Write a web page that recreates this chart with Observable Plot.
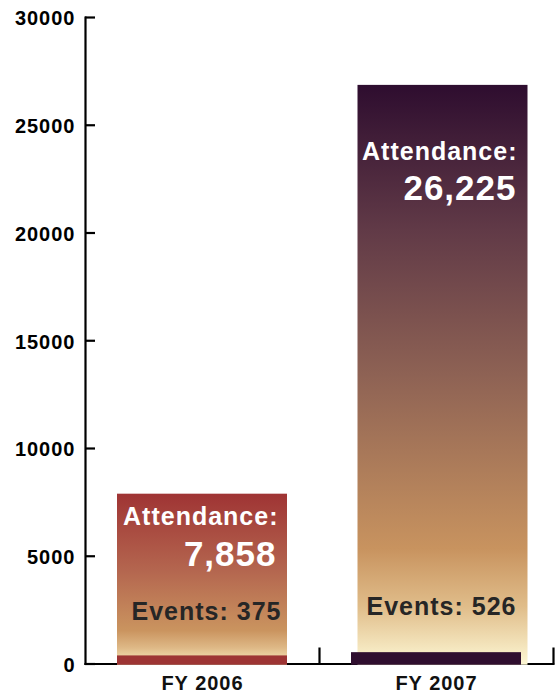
<!DOCTYPE html>
<html><head><meta charset="utf-8">
<script src="https://cdn.jsdelivr.net/npm/d3@7"></script>
<script src="https://cdn.jsdelivr.net/npm/@observablehq/plot@0.6"></script>
<style>body{margin:0;background:#fff}</style>
</head><body><div id="chart"></div>
<script>
// ---- data ----
const years = ["FY 2006", "FY 2007"];
const attendance = [7858, 26225];
const events = [375, 526];
const barHeights = [7880, 26850]; // drawn height of the gradient bars
const yTicks = [0, 5000, 10000, 15000, 20000, 25000, 30000];

// ---- style per year ----
const look = {
  "FY 2006": {grad: "g2006", eventFill: "#9d3434", dx: 0, attDy: 31, numDy: 72, evDy: -44, attDx: 76, numDx: 74, evDx: 79,
    stops: [[0, "#9f3434"], [0.45, "#b4664f"], [0.8, "#ca945f"], [0.9, "#deb886"], [1, "#f8ebbe"]]},
  "FY 2007": {grad: "g2007", eventFill: "#2f0e2f", dx: 6.5, attDy: 75, numDy: 115, evDy: -49, attDx: 81, numDx: 80, evDx: 80,
    stops: [[0, "#2e0d2f"], [0.25, "#613a47"], [0.5, "#8e6254"], [0.8, "#c8935f"], [0.9, "#e0bd8a"], [1, "#fdf7d4"]]}
};

const rows = years.map((year, i) => ({year, attendance: attendance[i], events: events[i], bar: barHeights[i]}));
const W = 555, H = 698, mL = 85, mR = 2, mT = 17, mB = 34.5;
const frameW = W - mL - mR, frameH = H - mT - mB;
const fmt = d3.format(",");
const textBase = {fontWeight: "bold", lineAnchor: "bottom", textAnchor: "end"};

const marks = [
  Plot.frame({anchor: "bottom", strokeWidth: 2.2, stroke: "#000"}),
  Plot.frame({anchor: "left", strokeWidth: 2.2, stroke: "#000"}),
  Plot.ruleY(yTicks, {y: d => d, insetRight: frameW - 10, strokeWidth: 2.2}),
  Plot.ruleX(years, {x: d => d, dx: 117, insetTop: frameH - 16, strokeWidth: 2.2}),
  ...rows.map(r => Plot.barY([r], {x: "year", y: "bar", fill: `url(#${look[r.year].grad})`, insetLeft: 32, insetRight: 32, insetBottom: -1.2, dx: look[r.year].dx})),
  ...rows.map(r => Plot.barY([r], {x: "year", y: "events", fill: look[r.year].eventFill, insetLeft: 32, insetRight: 32, insetBottom: -1.2})),
  ...rows.map(r => Plot.text([r], {...textBase, x: "year", y: "bar", text: () => "Attendance:", fill: "white", fontSize: 25, dx: look[r.year].attDx, dy: look[r.year].attDy})),
  ...rows.map(r => Plot.text([r], {...textBase, x: "year", y: "bar", text: d => fmt(d.attendance), fill: "white", fontSize: 35, dx: look[r.year].numDx, dy: look[r.year].numDy})),
  ...rows.map(r => Plot.text([r], {...textBase, x: "year", y: () => 0, text: d => `Events: ${d.events}`, fill: "#262626", fontSize: 25, dx: look[r.year].evDx, dy: look[r.year].evDy})),
  Plot.axisY(yTicks, {tickSize: 0, tickPadding: 10, fontSize: 20, fontWeight: "bold", tickFormat: d => String(d), label: null, dy: 1.5, fill: "#000"}),
  Plot.axisX({tickSize: 0, tickPadding: 12, fontSize: 20, fontWeight: "bold", label: null, fill: "#111"})
];

const svg = Plot.plot({
  width: W, height: H,
  marginLeft: mL, marginRight: mR, marginTop: mT, marginBottom: mB,
  x: {domain: years, padding: 0},
  y: {domain: [0, 30000], ticks: yTicks},
  style: "font-family: 'Liberation Sans', Arial, Helvetica, sans-serif; letter-spacing: 1px; background: white;",
  marks
});

const defs = d3.select(svg).insert("defs", ":first-child");
for (const y of years) {
  const g = defs.append("linearGradient").attr("id", look[y].grad).attr("x1", 0).attr("y1", 0).attr("x2", 0).attr("y2", 1);
  for (const [o, c] of look[y].stops) g.append("stop").attr("offset", o).attr("stop-color", c);
}
document.getElementById("chart").appendChild(svg);
</script>
</body></html>
